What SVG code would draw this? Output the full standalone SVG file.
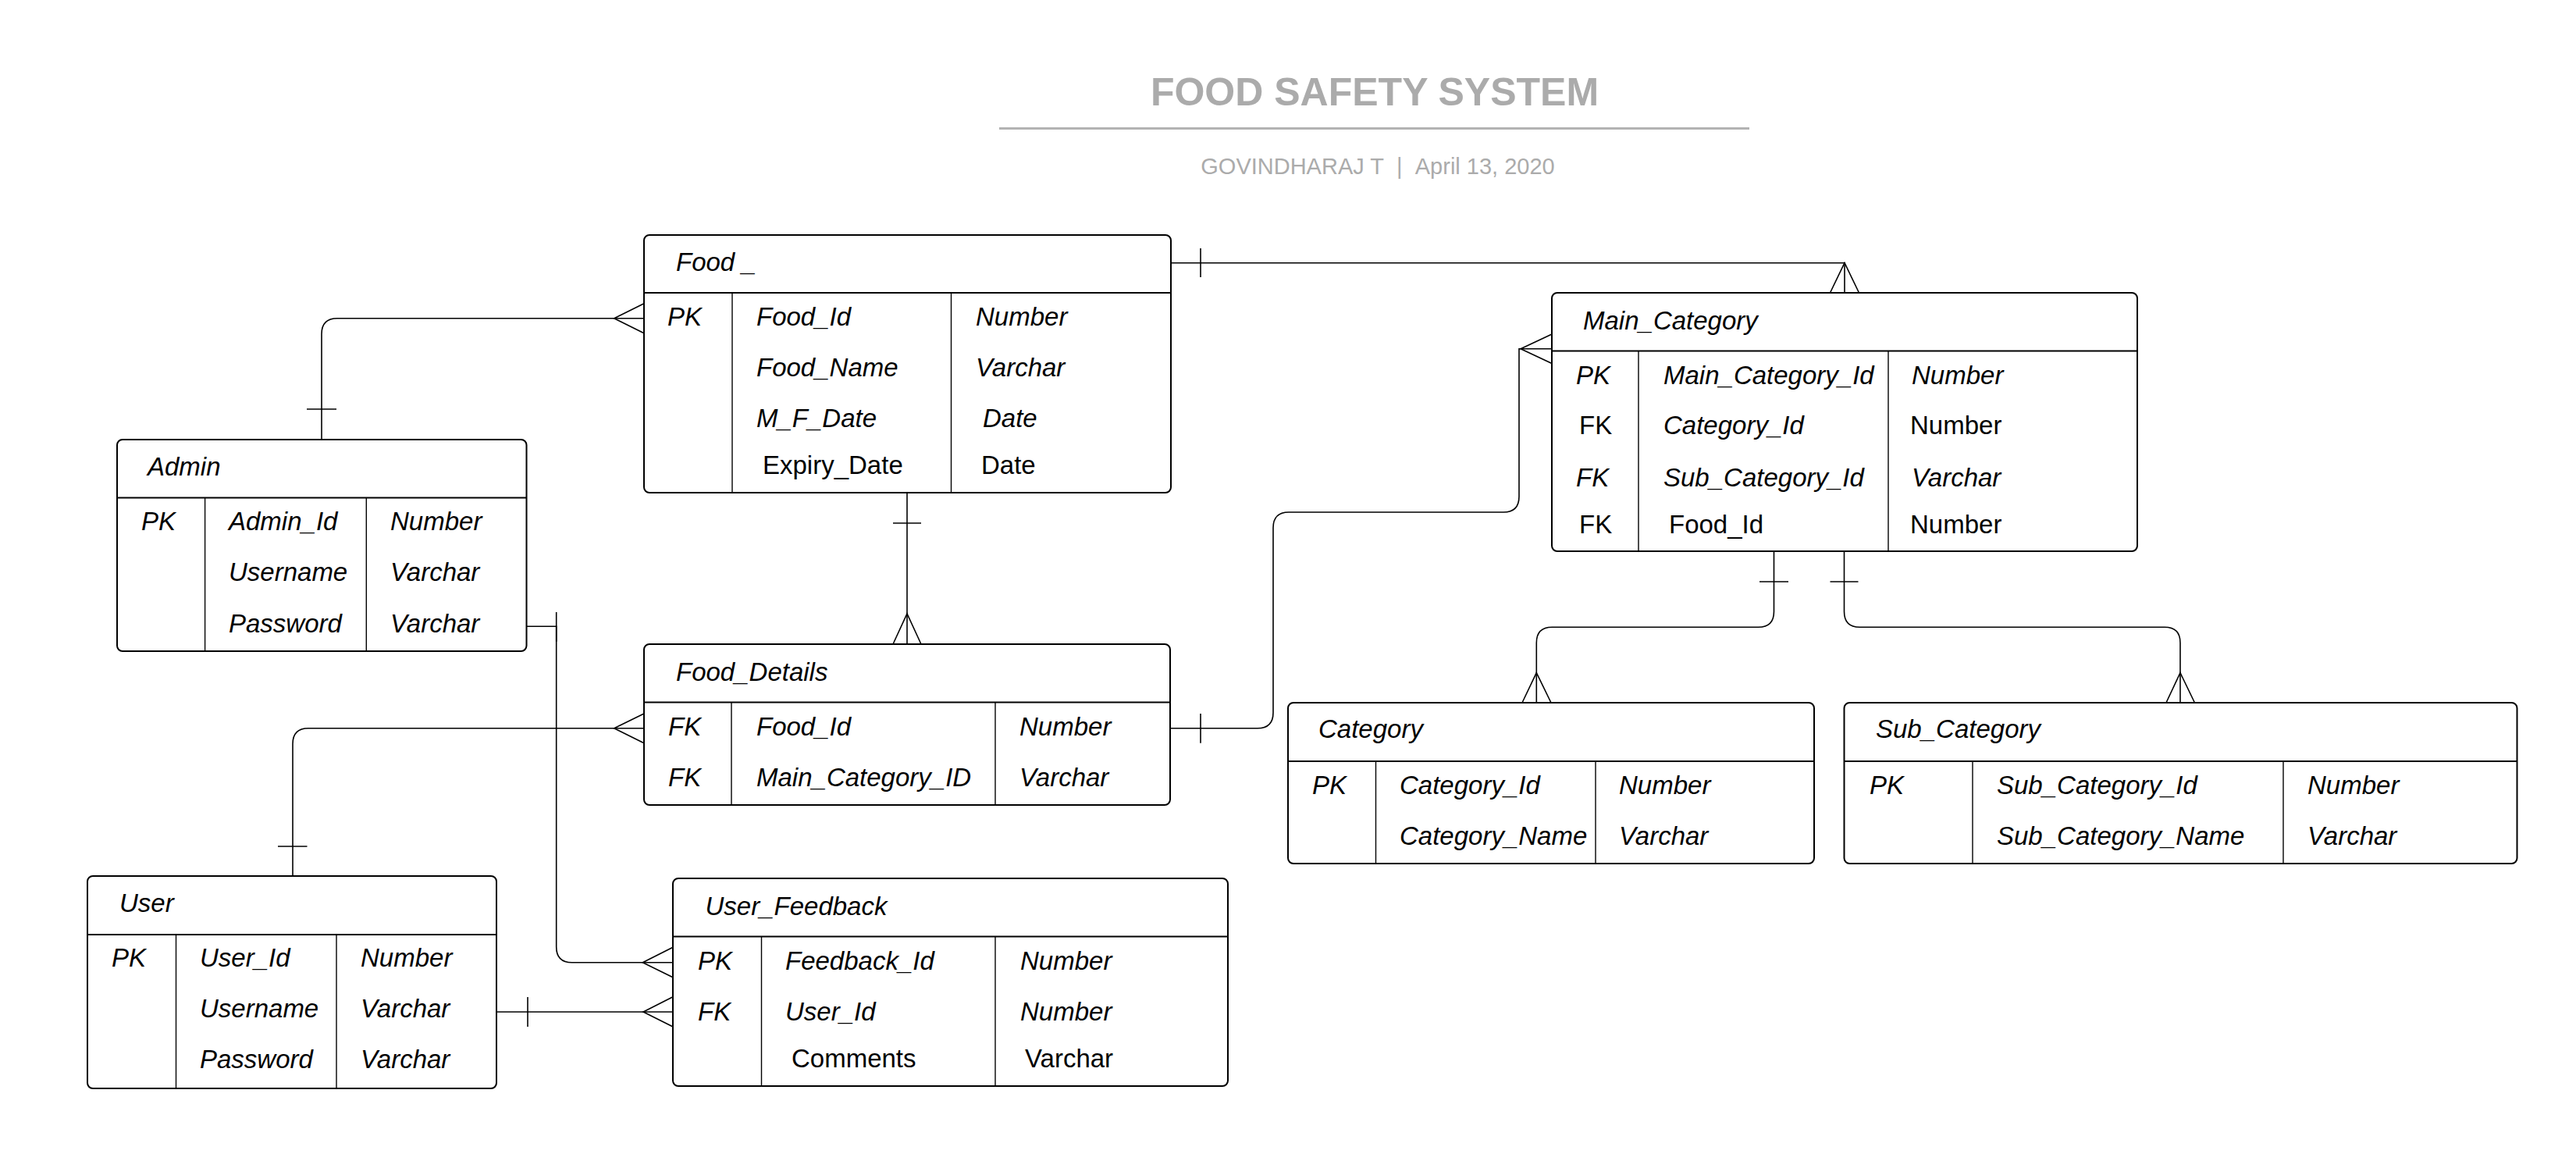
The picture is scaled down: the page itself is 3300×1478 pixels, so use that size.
<svg xmlns="http://www.w3.org/2000/svg" width="3300" height="1478" viewBox="0 0 3300 1478">
<style>
.bg{fill:#fff}
.box{fill:#fff;stroke:#000;stroke-width:2}
.hd{stroke:#000;stroke-width:2}
.cd{stroke:#000;stroke-width:1.4}
.t{font-family:"Liberation Sans",Arial,sans-serif;font-size:33px;font-style:italic;fill:#000}
.u{font-style:normal}
.c{fill:none;stroke:#000;stroke-width:1.6}
.ttl{font-family:"Liberation Sans",Arial,sans-serif;font-weight:bold;font-size:50px;fill:#ababab}
.sub{font-family:"Liberation Sans",Arial,sans-serif;font-size:29px;fill:#ababab}
</style>
<rect class="bg" x="0" y="0" width="3300" height="1478"/>
<g id="title">
<text class="ttl" x="1761" y="135" text-anchor="middle">FOOD SAFETY SYSTEM</text>
<line x1="1280" y1="164.5" x2="2241" y2="164.5" stroke="#b3b3b3" stroke-width="3"/>
<text class="sub" x="1765" y="223" text-anchor="middle">GOVINDHARAJ T&#160;&#160;|&#160;&#160;April 13, 2020</text>
</g>
<g id="connectors">
<!-- Admin - Food -->
<path class="c" d="M412 563 V427.7 Q412 407.7 432 407.7 H825"/>
<path class="c" d="M393 524 H431"/>
<path class="c" d="M825 388.7 L786.7 407.7 L825 426.7"/>
<!-- Food - Food_Details -->
<path class="c" d="M1162 631 V825"/>
<path class="c" d="M1144 670 H1180"/>
<path class="c" d="M1144 825 L1162 786 L1180 825"/>
<!-- Food - Main_Category -->
<path class="c" d="M1500 336.7 H2363 V375"/>
<path class="c" d="M1538 318 V355"/>
<path class="c" d="M2344.5 375 L2363 336.7 L2381.5 375"/>
<!-- Food_Details - Main_Category -->
<path class="c" d="M1499 932.7 H1611 Q1631 932.7 1631 912.7 V676 Q1631 656 1651 656 H1926 Q1946 656 1946 636 V446.7 H1988"/>
<path class="c" d="M1538 914 V951.7"/>
<path class="c" d="M1988 428 L1948 446.7 L1988 465.5"/>
<!-- Main_Category - Category -->
<path class="c" d="M2272.5 706 V783.3 Q2272.5 803.3 2252.5 803.3 H1988.3 Q1968.3 803.3 1968.3 823.3 V900"/>
<path class="c" d="M2254 745 H2291"/>
<path class="c" d="M1950 900 L1968.3 861.7 L1987 900"/>
<!-- Main_Category - Sub_Category -->
<path class="c" d="M2362.5 706 V783.3 Q2362.5 803.3 2382.5 803.3 H2773 Q2793 803.3 2793 823.3 V900"/>
<path class="c" d="M2344.5 745 H2380.5"/>
<path class="c" d="M2775 900 L2793 861.7 L2811.5 900"/>
<!-- User - Food_Details -->
<path class="c" d="M375 1122 V952.7 Q375 932.7 395 932.7 H825"/>
<path class="c" d="M356 1084 H393.5"/>
<path class="c" d="M825 914 L786.7 932.7 L825 951.7"/>
<!-- Admin - User_Feedback -->
<path class="c" d="M674.5 802.3 H712.7 V1212.7 Q712.7 1232.7 732.7 1232.7 H862"/>
<path class="c" d="M712.7 784 V821.7"/>
<path class="c" d="M862 1213.3 L823.3 1232.7 L862 1251.7"/>
<!-- User - User_Feedback -->
<path class="c" d="M635.7 1296 H862"/>
<path class="c" d="M676 1277 V1315"/>
<path class="c" d="M862 1276.7 L824 1296 L862 1315"/>
</g>
<g id="food">
<rect class="box" x="825" y="301" width="675" height="330" rx="7"/>
<line class="hd" x1="825" y1="375" x2="1500" y2="375"/>
<line class="cd" x1="938" y1="375" x2="938" y2="631"/>
<line class="cd" x1="1218.5" y1="375" x2="1218.5" y2="631"/>
<text class="t" x="866" y="347">Food _</text>
<text class="t" x="855" y="417">PK</text>
<text class="t" x="969" y="417">Food_Id</text>
<text class="t" x="969" y="482">Food_Name</text>
<text class="t" x="969" y="547">M_F_Date</text>
<text class="t u" x="977" y="607">Expiry_Date</text>
<text class="t" x="1250" y="417">Number</text>
<text class="t" x="1250" y="482">Varchar</text>
<text class="t" x="1259" y="547">Date</text>
<text class="t u" x="1257" y="607">Date</text>
</g>
<g id="main_category">
<rect class="box" x="1988" y="375" width="750" height="331" rx="7"/>
<line class="hd" x1="1988" y1="449.5" x2="2738" y2="449.5"/>
<line class="cd" x1="2099" y1="449.5" x2="2099" y2="706"/>
<line class="cd" x1="2419" y1="449.5" x2="2419" y2="706"/>
<text class="t" x="2028" y="422">Main_Category</text>
<text class="t" x="2019" y="492">PK</text>
<text class="t u" x="2023" y="556">FK</text>
<text class="t" x="2019" y="623">FK</text>
<text class="t u" x="2023" y="683">FK</text>
<text class="t" x="2131" y="492">Main_Category_Id</text>
<text class="t" x="2131" y="556">Category_Id</text>
<text class="t" x="2131" y="623">Sub_Category_Id</text>
<text class="t u" x="2138" y="683">Food_Id</text>
<text class="t" x="2449" y="492">Number</text>
<text class="t u" x="2447" y="556">Number</text>
<text class="t" x="2449" y="623">Varchar</text>
<text class="t u" x="2447" y="683">Number</text>
</g>
<g id="admin">
<rect class="box" x="150" y="563" width="524.5" height="271" rx="7"/>
<line class="hd" x1="150" y1="637.5" x2="674.5" y2="637.5"/>
<line class="cd" x1="262.6" y1="637.5" x2="262.6" y2="834"/>
<line class="cd" x1="469.3" y1="637.5" x2="469.3" y2="834"/>
<text class="t" x="189" y="609">Admin</text>
<text class="t" x="181" y="679">PK</text>
<text class="t" x="293" y="679">Admin_Id</text>
<text class="t" x="293" y="744">Username</text>
<text class="t" x="293" y="810">Password</text>
<text class="t" x="500" y="679">Number</text>
<text class="t" x="500" y="744">Varchar</text>
<text class="t" x="500" y="810">Varchar</text>
</g>
<g id="food_details">
<rect class="box" x="825" y="825" width="674" height="206" rx="7"/>
<line class="hd" x1="825" y1="899.5" x2="1499" y2="899.5"/>
<line class="cd" x1="937" y1="899.5" x2="937" y2="1031"/>
<line class="cd" x1="1275" y1="899.5" x2="1275" y2="1031"/>
<text class="t" x="866" y="872">Food_Details</text>
<text class="t" x="856" y="942">FK</text>
<text class="t" x="856" y="1007">FK</text>
<text class="t" x="969" y="942">Food_Id</text>
<text class="t" x="969" y="1007">Main_Category_ID</text>
<text class="t" x="1306" y="942">Number</text>
<text class="t" x="1306" y="1007">Varchar</text>
</g>
<g id="user">
<rect class="box" x="112" y="1122" width="524" height="272" rx="7"/>
<line class="hd" x1="112" y1="1197" x2="636" y2="1197"/>
<line class="cd" x1="225.5" y1="1197" x2="225.5" y2="1394"/>
<line class="cd" x1="431" y1="1197" x2="431" y2="1394"/>
<text class="t" x="153" y="1168">User</text>
<text class="t" x="143" y="1238">PK</text>
<text class="t" x="256" y="1238">User_Id</text>
<text class="t" x="256" y="1303">Username</text>
<text class="t" x="256" y="1368">Password</text>
<text class="t" x="462" y="1238">Number</text>
<text class="t" x="462" y="1303">Varchar</text>
<text class="t" x="462" y="1368">Varchar</text>
</g>
<g id="user_feedback">
<rect class="box" x="862" y="1125" width="711" height="266" rx="7"/>
<line class="hd" x1="862" y1="1199.5" x2="1573" y2="1199.5"/>
<line class="cd" x1="975.5" y1="1199.5" x2="975.5" y2="1391"/>
<line class="cd" x1="1275" y1="1199.5" x2="1275" y2="1391"/>
<text class="t" x="903.5" y="1172">User_Feedback</text>
<text class="t" x="894" y="1242">PK</text>
<text class="t" x="894" y="1307">FK</text>
<text class="t" x="1006" y="1242">Feedback_Id</text>
<text class="t" x="1006" y="1307">User_Id</text>
<text class="t u" x="1014" y="1367">Comments</text>
<text class="t" x="1307" y="1242">Number</text>
<text class="t" x="1307" y="1307">Number</text>
<text class="t u" x="1313" y="1367">Varchar</text>
</g>
<g id="category">
<rect class="box" x="1650" y="900" width="674" height="206" rx="7"/>
<line class="hd" x1="1650" y1="975" x2="2324" y2="975"/>
<line class="cd" x1="1762.5" y1="975" x2="1762.5" y2="1106"/>
<line class="cd" x1="2044" y1="975" x2="2044" y2="1106"/>
<text class="t" x="1689" y="945">Category</text>
<text class="t" x="1681" y="1017">PK</text>
<text class="t" x="1793" y="1017">Category_Id</text>
<text class="t" x="1793" y="1082">Category_Name</text>
<text class="t" x="2074" y="1017">Number</text>
<text class="t" x="2074" y="1082">Varchar</text>
</g>
<g id="sub_category">
<rect class="box" x="2362.5" y="900" width="862" height="206" rx="7"/>
<line class="hd" x1="2362.5" y1="975" x2="3224.5" y2="975"/>
<line class="cd" x1="2527" y1="975" x2="2527" y2="1106"/>
<line class="cd" x1="2925" y1="975" x2="2925" y2="1106"/>
<text class="t" x="2403" y="945">Sub_Category</text>
<text class="t" x="2395" y="1017">PK</text>
<text class="t" x="2558" y="1017">Sub_Category_Id</text>
<text class="t" x="2558" y="1082">Sub_Category_Name</text>
<text class="t" x="2956" y="1017">Number</text>
<text class="t" x="2956" y="1082">Varchar</text>
</g>
</svg>
